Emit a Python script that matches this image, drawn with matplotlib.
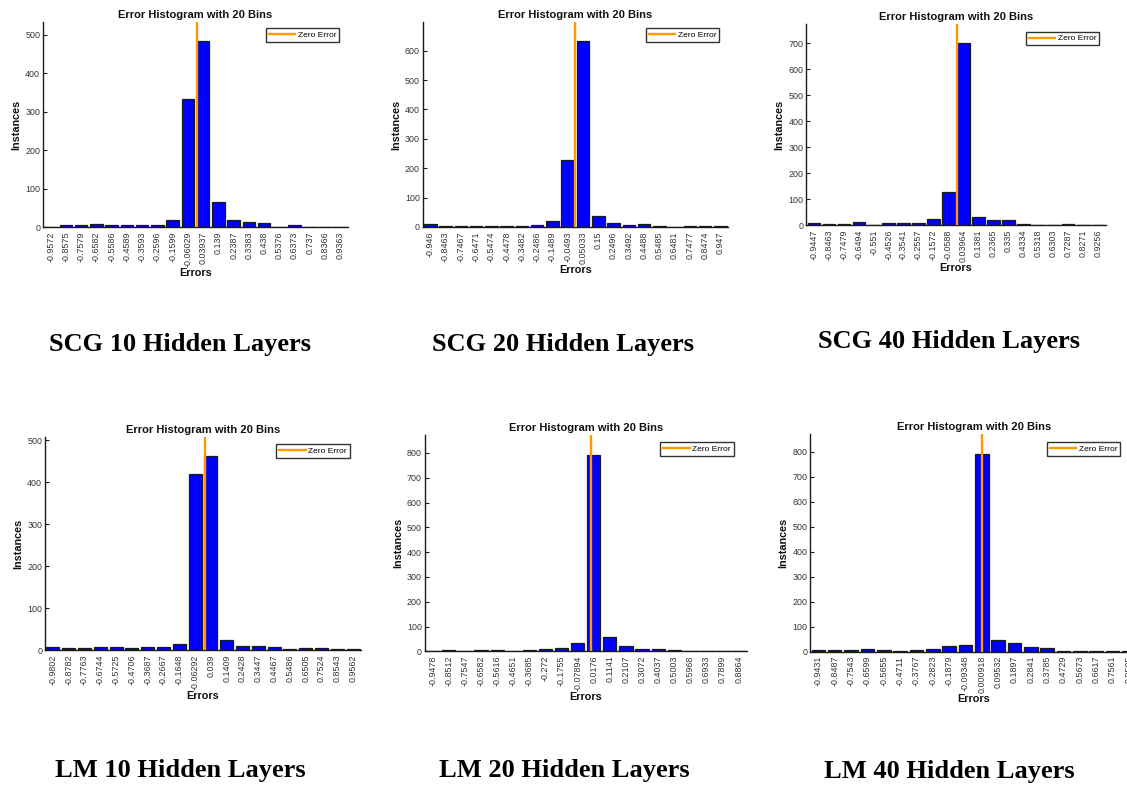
import matplotlib
matplotlib.use('Agg')
import matplotlib.pyplot as plt

# ---------------- data ----------------
scg10_bins = ['-0.9572', '-0.8575', '-0.7579', '-0.6582', '-0.5586', '-0.4589', '-0.3593', '-0.2596', '-0.1599', '-0.06029',
              '0.03937', '0.139', '0.2387', '0.3383', '0.438', '0.5376', '0.6373', '0.737', '0.8366', '0.9363']
scg10_counts = [2, 6, 5, 8, 5, 7, 7, 6, 19, 333, 485, 65, 18, 13, 11, 2, 5, 2, 1, 2]

scg20_bins = ['-0.946', '-0.8463', '-0.7467', '-0.6471', '-0.5474', '-0.4478', '-0.3482', '-0.2486', '-0.1489', '-0.0493',
              '0.05033', '0.15', '0.2496', '0.3492', '0.4488', '0.5485', '0.6481', '0.7477', '0.8474', '0.947']
scg20_counts = [11, 3, 4, 5, 5, 2, 5, 6, 19, 227, 634, 37, 15, 7, 9, 2, 1, 3, 3, 3]

scg40_bins = ['-0.9447', '-0.8463', '-0.7479', '-0.6494', '-0.551', '-0.4526', '-0.3541', '-0.2557', '-0.1572', '-0.0588',
              '0.03964', '0.1381', '0.2365', '0.335', '0.4334', '0.5318', '0.6303', '0.7287', '0.8271', '0.9256']
scg40_counts = [8, 4, 5, 12, 2, 8, 9, 9, 24, 129, 702, 33, 22, 20, 6, 1, 3, 4, 3, 3]

lm10_bins = ['-0.9802', '-0.8782', '-0.7763', '-0.6744', '-0.5725', '-0.4706', '-0.3687', '-0.2667', '-0.1648', '-0.06292',
             '0.039', '0.1409', '0.2428', '0.3447', '0.4467', '0.5486', '0.6505', '0.7524', '0.8543', '0.9562']
lm10_counts = [9, 6, 5, 8, 7, 5, 9, 7, 14, 419, 462, 25, 10, 11, 8, 2, 5, 5, 3, 3]

lm20_bins = ['-0.9478', '-0.8512', '-0.7547', '-0.6582', '-0.5616', '-0.4651', '-0.3685', '-0.272', '-0.1755', '-0.07894',
             '0.0176', '0.1141', '0.2107', '0.3072', '0.4037', '0.5003', '0.5968', '0.6933', '0.7899', '0.8864']
lm20_counts = [3, 5, 3, 7, 7, 3, 7, 9, 15, 34, 793, 57, 20, 9, 9, 7, 1, 3, 3, 3]

lm40_bins = ['-0.9431', '-0.8487', '-0.7543', '-0.6599', '-0.5655', '-0.4711', '-0.3767', '-0.2823', '-0.1879', '-0.09348',
             '0.000918', '0.09532', '0.1897', '0.2841', '0.3785', '0.4729', '0.5673', '0.6617', '0.7561', '0.8505']
lm40_counts = [5, 5, 5, 10, 5, 1, 8, 10, 24, 25, 791, 48, 36, 19, 13, 4, 1, 3, 4, 3]

captions = ['SCG 10 Hidden Layers', 'SCG 20 Hidden Layers', 'SCG 40 Hidden Layers',
            'LM 10 Hidden Layers', 'LM 20 Hidden Layers', 'LM 40 Hidden Layers']
title_text = 'Error Histogram with 20 Bins'
xlabel_text = 'Errors'
ylabel_text = 'Instances'
legend_text = 'Zero Error'

# ---------------- layout (pixels) ----------------
W, H = 1127, 788
axes_px = [(43, 22, 348, 227.3), (422.7, 22, 728, 227), (806.3, 24.3, 1105.7, 225.3),
           (45, 436.7, 361, 650.3), (424.7, 435, 746.7, 651.3), (810.3, 434, 1137, 651.5)]
legend_px = [(265.7, 28), (645.7, 28), (1025.7, 31.7), (276, 444.3), (660.3, 442.3), (1046.7, 442.3)]
caption_px = [(180, 344.5), (563, 344.5), (949, 341.5), (180.5, 770), (564, 771), (949, 771.5)]

datasets = [(scg10_bins, scg10_counts), (scg20_bins, scg20_counts), (scg40_bins, scg40_counts),
            (lm10_bins, lm10_counts), (lm20_bins, lm20_counts), (lm40_bins, lm40_counts)]

sans = ['Liberation Sans', 'DejaVu Sans']
serif = ['Liberation Serif', 'DejaVu Serif']
TICK_COLOR = '#333333'
ORANGE = (1.0, 0.6, 0.0)

fig = plt.figure(figsize=(W / 100, H / 100), dpi=100)
fig.patch.set_facecolor('white')

for i, (bins, counts) in enumerate(datasets):
    l, t, r, b = axes_px[i]
    ax = fig.add_axes([l / W, 1 - b / H, (r - l) / W, (b - t) / H])
    centers = [float(s) for s in bins]
    step = (centers[-1] - centers[0]) / (len(centers) - 1)
    ax.bar(centers, counts, width=step * 0.82, color=(0, 0, 1), edgecolor='#1a1a1a',
           linewidth=0.9, zorder=2)
    ymax = max(counts) * 1.1
    ax.set_xlim(centers[0] - step / 2, centers[-1] + step / 2)
    ax.set_ylim(0, ymax)
    zl, = ax.plot([0, 0], [0, ymax], color=ORANGE, linewidth=1.7, zorder=3, label=legend_text)
    ax.set_xticks(centers)
    ax.set_xticklabels(bins, rotation=90, family=sans)
    yt = list(range(0, int(ymax) + 1, 100))
    ax.set_yticks(yt)
    ax.set_yticklabels([str(v) for v in yt], family=sans)
    ax.tick_params(axis='both', direction='in', width=0.8, labelsize=6.4,
                   labelcolor=TICK_COLOR, color='#1a1a1a', pad=2)
    ax.tick_params(axis='y', length=3)
    ax.tick_params(axis='x', length=0, pad=3)
    for side in ('top', 'right'):
        ax.spines[side].set_visible(False)
    for side in ('left', 'bottom'):
        ax.spines[side].set_linewidth(1.0)
        ax.spines[side].set_color('#1a1a1a')
    ax.set_title(title_text, family=sans, fontsize=8, fontweight='bold', pad=3, color='#111111')
    ax.set_xlabel(xlabel_text, family=sans, fontsize=7.8, fontweight='bold', labelpad=1, color='#111111')
    ax.set_ylabel(ylabel_text, family=sans, fontsize=7.8, fontweight='bold', labelpad=3, color='#111111')
    lx, ly = legend_px[i]
    leg = ax.legend(handles=[zl], loc='upper left', bbox_to_anchor=(lx / W, 1 - ly / H),
                    bbox_transform=fig.transFigure, borderaxespad=0, fancybox=False,
                    framealpha=1, edgecolor='#333333', prop={'family': sans, 'size': 6},
                    handlelength=3.2, handletextpad=0.3, borderpad=0.35)
    leg.get_frame().set_linewidth(1.0)
    cx, cy = caption_px[i]
    fig.text(cx / W, 1 - cy / H, captions[i], ha='center', va='center',
             family=serif, fontsize=19, fontweight='bold', color='black')

fig.savefig('out.png', dpi=100, facecolor='white')
